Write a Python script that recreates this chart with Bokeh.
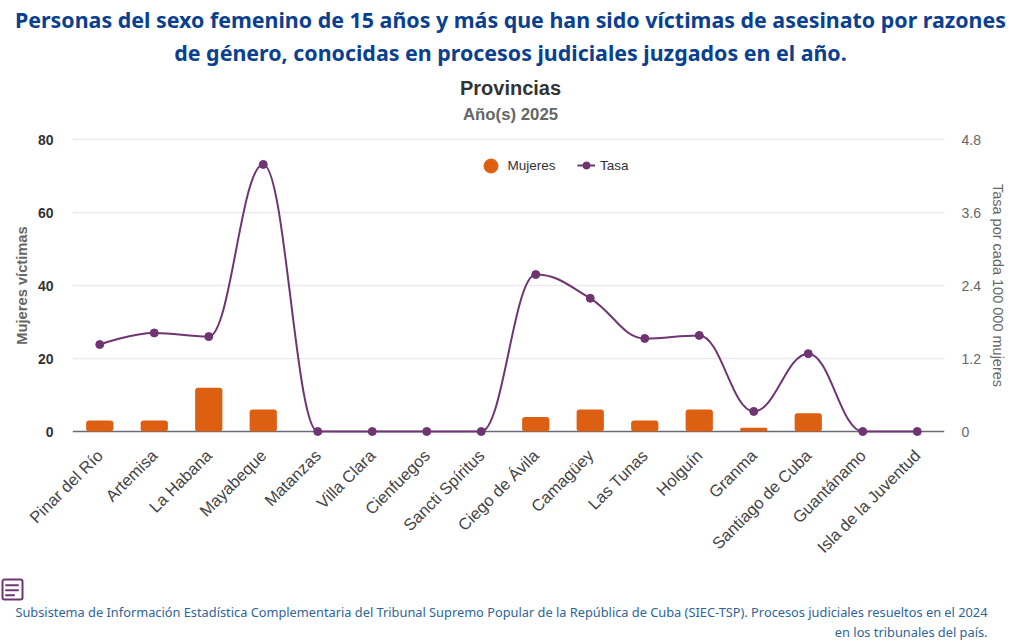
from bokeh.plotting import figure
from bokeh.models import (Range1d, LinearAxis, FixedTicker, Label, Span, Legend, LegendItem,
                          BoxAnnotation, PolyAnnotation, ColumnDataSource)
from bokeh.embed import file_html
from bokeh.resources import INLINE

title_lines = ["Personas del sexo femenino de 15 años y más que han sido víctimas de asesinato por razones",
               "de género, conocidas en procesos judiciales juzgados en el año."]
subtitle = "Provincias"
years = "Año(s) 2025"
footer_lines = ["Subsistema de Información Estadística Complementaria del Tribunal Supremo Popular de la República de Cuba (SIEC-TSP). Procesos judiciales resueltos en el 2024",
                "en los tribunales del país."]
categories = ["Pinar del Río", "Artemisa", "La Habana", "Mayabeque", "Matanzas", "Villa Clara", "Cienfuegos",
              "Sancti Spíritus", "Ciego de Ávila", "Camagüey", "Las Tunas", "Holguín", "Granma",
              "Santiago de Cuba", "Guantánamo", "Isla de la Juventud"]
mujeres = [3, 3, 12, 6, 0, 0, 0, 0, 4, 6, 3, 6, 1, 5, 0, 0]
tasa = [1.43, 1.62, 1.56, 4.39, 0, 0, 0, 0, 2.58, 2.19, 1.53, 1.58, 0.33, 1.28, 0, 0]
left_ticks = [0, 20, 40, 60, 80]
right_ticks = [0, 1.2, 2.4, 3.6, 4.8]
right_tick_labels = ["0", "1.2", "2.4", "3.6", "4.8"]

W = 1020
HEAD_H, MAIN_H, FOOT_H = 129, 446, 65
PURPLE = "#6f3572"
ORANGE = "#dc5f12"
BLUE = "#0b3f8f"
SANS = "Liberation Sans"
pad = 80 * 6 / 292  # room around the plot area so markers are not clipped


def spline_segments(ys, smoothing=1.5):
    """Cubic control points of a monotone-clamped spline through the data values."""
    denom = smoothing + 1
    n = len(ys)
    left, right = [None] * n, [None] * n
    for i in range(n):
        x, y = float(i), ys[i]
        if i == 0 or i == n - 1:
            left[i] = right[i] = (x, y)
            continue
        ly, ny = ys[i - 1], ys[i + 1]
        lx_c = (smoothing * x + (x - 1)) / denom
        rx_c = (smoothing * x + (x + 1)) / denom
        ly_c = (smoothing * y + ly) / denom
        ry_c = (smoothing * y + ny) / denom
        corr = (ry_c - ly_c) * (rx_c - x) / (rx_c - lx_c) + y - ry_c
        ly_c += corr
        ry_c += corr
        if ly_c > ly and ly_c > y:
            ly_c = max(ly, y); ry_c = 2 * y - ly_c
        elif ly_c < ly and ly_c < y:
            ly_c = min(ly, y); ry_c = 2 * y - ly_c
        if ry_c > ny and ry_c > y:
            ry_c = max(ny, y); ly_c = 2 * y - ry_c
        elif ry_c < ny and ry_c < y:
            ry_c = min(ny, y); ly_c = 2 * y - ry_c
        left[i], right[i] = (lx_c, ly_c), (rx_c, ry_c)
    return dict(
        x0=list(range(n - 1)), y0=ys[:-1], x1=list(range(1, n)), y1=ys[1:],
        cx0=[right[i][0] for i in range(n - 1)], cy0=[right[i][1] for i in range(n - 1)],
        cx1=[left[i + 1][0] for i in range(n - 1)], cy1=[left[i + 1][1] for i in range(n - 1)],
    )


def blank_figure(width, height):
    f = figure(width=width, height=height, output_backend="svg", toolbar_location=None,
               x_range=Range1d(0, 1), y_range=Range1d(0, 1), x_axis_type=None, y_axis_type=None,
               min_border=0, outline_line_color=None)
    f.grid.visible = False
    return f


def label(f, bottom, text, X, Y, size, color, font=SANS, style="normal", align="center"):
    f.add_layout(Label(x=X, y=bottom - Y, x_units="screen", y_units="screen", text=text,
                       text_align=align, text_baseline="middle", text_font=font, text_font_size=size,
                       text_font_style=style, text_color=color))


# header
head = blank_figure(W, HEAD_H)
label(head, HEAD_H, title_lines[0], 510, 19, "21.4px", BLUE, "Noto Sans", "bold")
label(head, HEAD_H, title_lines[1], 510, 52, "21.4px", BLUE, "Noto Sans", "bold")
label(head, HEAD_H, subtitle, 510, 87, "20px", "#333333", SANS, "bold")
label(head, HEAD_H, years, 510, 114, "16.8px", "#666666", SANS, "bold")

# main chart
p = figure(width=W, height=MAIN_H, output_backend="svg", toolbar_location=None,
           x_range=Range1d(-0.5, len(categories) - 0.5), y_range=Range1d(-pad, 80 + pad),
           min_border_left=72, min_border_right=76, min_border_top=4, min_border_bottom=138,
           frame_width=872, frame_height=304,
           outline_line_color=None, background_fill_color="white", border_fill_color="white")
p.extra_y_ranges = {"tasa": Range1d(-pad * 4.8 / 80, 4.8 + pad * 4.8 / 80)}

xa = p.xaxis[0]
xa.ticker = FixedTicker(ticks=list(range(len(categories))))
xa.major_label_overrides = {i: c for i, c in enumerate(categories)}
xa.major_label_orientation = 0.785398
xa.major_label_text_font = SANS
xa.major_label_text_font_size = "16.5px"
xa.major_label_text_color = "#444444"
xa.major_label_standoff = 15
xa.major_tick_out = 0
xa.major_tick_in = 0
xa.axis_line_color = None
xa.major_tick_line_color = None
xa.minor_tick_line_color = None
p.xgrid.visible = False

ya = p.yaxis[0]
ya.ticker = FixedTicker(ticks=left_ticks)
ya.axis_label = "Mujeres víctimas"
ya.axis_label_text_font = SANS
ya.axis_label_text_font_style = "bold"
ya.axis_label_text_font_size = "14.7px"
ya.axis_label_text_color = "#666666"
ya.axis_label_standoff = 5
ya.major_label_text_font = SANS
ya.major_label_text_font_style = "bold"
ya.major_label_text_font_size = "14px"
ya.major_label_text_color = "#333333"
ya.major_label_standoff = 19
ya.major_tick_out = 0
ya.major_tick_in = 0
ya.axis_line_color = None
ya.major_tick_line_color = None
ya.minor_tick_line_color = None
p.ygrid.ticker = FixedTicker(ticks=left_ticks[1:])
p.ygrid.grid_line_color = "#e9e9ee"
p.ygrid.grid_line_width = 1.5

ra = LinearAxis(y_range_name="tasa", ticker=FixedTicker(ticks=right_ticks),
                major_label_overrides=dict(zip(right_ticks, right_tick_labels)),
                axis_label="Tasa por cada 100 000 mujeres")
ra.axis_label_text_font = SANS
ra.axis_label_text_font_style = "normal"
ra.axis_label_text_font_size = "14.5px"
ra.axis_label_text_color = "#666666"
ra.axis_label_standoff = 6
ra.major_label_text_font = SANS
ra.major_label_text_font_size = "14px"
ra.major_label_text_color = "#666666"
ra.major_label_standoff = 17
ra.major_tick_out = 0
ra.major_tick_in = 0
ra.axis_line_color = None
ra.major_tick_line_color = None
ra.minor_tick_line_color = None
p.add_layout(ra, "right")

p.add_layout(Span(location=0, dimension="width", line_color="#6b6b78", line_width=1.5, level="underlay"))

p.vbar(x=list(range(len(categories))), top=mujeres, width=0.5, bottom=0, fill_color=ORANGE,
       line_color=None, border_radius=3)
src = ColumnDataSource(spline_segments(tasa))
tasa_curve = p.bezier(x0="x0", y0="y0", x1="x1", y1="y1", cx0="cx0", cy0="cy0", cx1="cx1", cy1="cy1", source=src,
                      line_color=PURPLE, line_width=2, y_range_name="tasa")
tasa_pts = p.scatter(x=list(range(len(categories))), y=tasa, size=8, marker="circle", fill_color=PURPLE,
                     line_color=PURPLE, y_range_name="tasa")
nan = float("nan")
leg_m = p.scatter([nan], [nan], marker="circle", fill_color=ORANGE, line_color=ORANGE)


def make_legend(lbl, rend, loc, gw, gh, standoff):
    return Legend(items=[LegendItem(label=lbl, renderers=rend)], location=loc, orientation="horizontal",
                  glyph_width=gw, glyph_height=gh, label_height=gh, border_line_color=None,
                  background_fill_alpha=0, padding=0, margin=0, spacing=0, label_standoff=standoff,
                  label_text_font=SANS, label_text_font_size="13.5px", label_text_color="#333333")


fy = 304 - 6 - (165 - 139)  # legend centre above frame bottom
p.add_layout(make_legend("Mujeres", [leg_m], (490 - 72 - 17.5, fy - 17.5), 35, 35, -5))
p.add_layout(make_legend("Tasa", [tasa_curve, tasa_pts], (577 - 72, fy - 9), 18, 18, 5))

# footer
foot = blank_figure(W, FOOT_H)
FB = HEAD_H + MAIN_H + FOOT_H
label(foot, FB, footer_lines[0], 987, 611, "12.8px", "#2f6496", "Noto Sans", "normal", "right")
label(foot, FB, footer_lines[1], 987, 631, "12.8px", "#2f6496", "Noto Sans", "normal", "right")

foot.add_layout(BoxAnnotation(left=2, right=22, top=FB - 579, bottom=FB - 599, left_units="screen",
                              right_units="screen", top_units="screen", bottom_units="screen",
                              fill_alpha=0, line_color=PURPLE, line_alpha=1, line_width=2, border_radius=2))
for x0, x1, y0 in [(5, 18, 584), (5, 18, 589), (5, 14, 594)]:
    foot.add_layout(PolyAnnotation(xs=[x0, x1, x1, x0],
                                   ys=[FB - y0, FB - y0, FB - y0 - 1.5, FB - y0 - 1.5],
                                   xs_units="screen", ys_units="screen", fill_color=PURPLE, fill_alpha=1,
                                   line_color=PURPLE, line_alpha=1, line_width=0.5))

open("out.html", "w").write(file_html([head, p, foot], INLINE))
